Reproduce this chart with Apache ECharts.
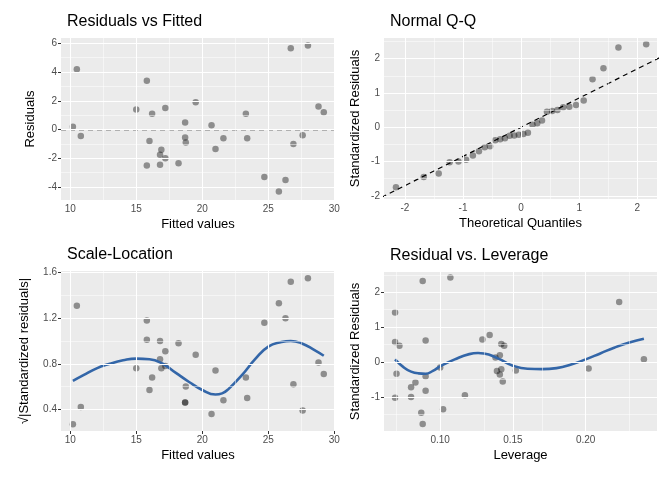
<!DOCTYPE html>
<html><head><meta charset="utf-8">
<script src="https://cdn.jsdelivr.net/npm/echarts@6/dist/echarts.min.js"></script>
<style>html,body{margin:0;padding:0;background:#fff}#c{width:672px;height:480px}</style>
</head><body><div id="c"></div>
<script>
// Residuals vs Fitted
const fittedResid = [[10.2,0.2],[10.5,4.2],[10.8,-0.45],[15,1.4],[15.8,3.4],[15.8,-2.5],[16,-0.8],[16.2,1.1],[16.8,-1.75],[16.8,-2.45],[16.9,-1.4],[17.2,1.5],[17.2,-2.0],[18.2,-2.35],[18.7,-0.55],[18.7,0.5],[18.75,-0.9],[19.5,1.9],[20.7,0.3],[21,-1.35],[21.6,-0.6],[23.3,1.1],[23.4,-0.6],[24.7,-3.3],[25.8,-4.3],[26.3,-3.5],[26.7,5.65],[26.9,-1.0],[27.6,-0.4],[28,5.85],[28.8,1.6],[29.2,1.2]];
// Normal Q-Q
const theoQ = [-2.154,-1.676,-1.418,-1.230,-1.078,-0.947,-0.830,-0.725,-0.626,-0.534,-0.445,-0.360,-0.278,-0.197,-0.118,-0.039,0.039,0.118,0.197,0.278,0.360,0.445,0.534,0.626,0.725,0.830,0.947,1.078,1.230,1.418,1.676,2.154];
const stdResSorted = [-1.75,-1.45,-1.35,-1.02,-1.0,-0.95,-0.82,-0.7,-0.58,-0.55,-0.38,-0.35,-0.32,-0.25,-0.24,-0.22,-0.2,-0.16,0.07,0.12,0.2,0.45,0.47,0.5,0.58,0.6,0.65,0.78,1.4,1.72,2.32,2.42];
const qqLine = [[-2.4,-2.04],[2.4,2.04]];
// Scale-Location
const scaleLoc = [[10.2,0.27],[10.5,1.31],[10.8,0.42],[15,0.76],[15.8,1.18],[15.8,1.01],[16,0.57],[16.2,0.68],[16.8,0.84],[16.8,1.0],[16.9,0.76],[17.2,0.91],[17.2,0.78],[18.2,0.98],[18.7,0.46],[18.7,0.46],[18.75,0.6],[19.5,0.88],[20.7,0.36],[21,0.74],[21.6,0.48],[23.3,0.68],[23.4,0.5],[24.7,1.16],[25.8,1.33],[26.3,1.2],[26.7,1.52],[26.9,0.62],[27.6,0.39],[28,1.55],[28.8,0.81],[29.2,0.71]];
const scaleSmooth = [[10.2,0.65],[11,0.7],[12,0.76],[13,0.8],[14,0.83],[15,0.845],[16,0.84],[17,0.8],[18,0.72],[19,0.64],[20,0.57],[21,0.53],[21.5,0.54],[22,0.58],[23,0.7],[24,0.84],[25,0.95],[26,0.99],[26.7,1.0],[27.5,0.98],[28.5,0.92],[29.2,0.87]];
// Residual vs Leverage
const leverage = [[0.069,1.42],[0.069,0.58],[0.069,-1.02],[0.070,-0.33],[0.072,0.47],[0.080,-0.72],[0.080,-1.0],[0.083,-0.58],[0.087,-1.45],[0.088,-1.77],[0.088,2.32],[0.090,0.62],[0.090,-0.4],[0.090,-0.82],[0.100,-0.15],[0.102,-1.35],[0.107,2.42],[0.117,-0.95],[0.129,0.65],[0.134,0.78],[0.138,0.13],[0.139,-0.25],[0.141,0.2],[0.141,-0.35],[0.142,0.52],[0.142,-0.2],[0.143,-0.55],[0.144,0.47],[0.152,-0.24],[0.202,-0.18],[0.223,1.72],[0.240,0.08]];
const levSmooth = [[0.069,0.08],[0.075,-0.15],[0.08,-0.27],[0.085,-0.32],[0.09,-0.33],[0.095,-0.25],[0.1,-0.12],[0.11,0.08],[0.12,0.23],[0.126,0.26],[0.13,0.25],[0.14,0.1],[0.15,-0.1],[0.16,-0.19],[0.17,-0.2],[0.18,-0.17],[0.19,-0.07],[0.2,0.08],[0.21,0.25],[0.22,0.42],[0.23,0.56],[0.24,0.67]];
// ticks
const t = {
 x0:[10,15,20,25,30], x0m:[12.5,17.5,22.5,27.5], y0:[-4,-2,0,2,4,6], y0m:[-3,-1,1,3,5],
 x1:[-2,-1,0,1,2], x1m:[-1.5,-0.5,0.5,1.5], y1:[-2,-1,0,1,2], y1m:[-1.5,-0.5,0.5,1.5,2.5],
 x2:[10,15,20,25,30], x2m:[12.5,17.5,22.5,27.5], y2:[0.4,0.8,1.2,1.6], y2m:[0.6,1.0,1.4],
 x3:[0.10,0.15,0.20], x3m:[0.075,0.125,0.175,0.225], y3:[-1,0,1,2], y3m:[-1.5,-0.5,0.5,1.5,2.5]
};
const ranges = [
 {x:[9.3,30.05], y:[-4.9,6.37]},
 {x:[-2.36,2.34], y:[-2.09,2.6]},
 {x:[9.3,30.05], y:[0.21,1.614]},
 {x:[0.0614,0.249], y:[-1.97,2.58]}
];
const grids = [
 {left:61,top:38,width:274,height:162},
 {left:384,top:38,width:273,height:161},
 {left:61,top:271,width:274,height:160},
 {left:384,top:272,width:273,height:159}
];
const names = [["Fitted values","Residuals"],["Theoretical Quantiles","Standardized Residuals"],["Fitted values","√|Standardized residuals|"],["Leverage","Standardized Residuals"]];
const titles = ["Residuals vs Fitted","Normal Q-Q","Scale-Location","Residual vs. Leverage"];
const fx = [v=>String(v), v=>String(v), v=>String(v), v=>v.toFixed(2)];
const fy = [v=>String(v), v=>String(v), v=>v.toFixed(1), v=>String(v)];
const font='Liberation Sans, Arial';

const xAxis=[], yAxis=[];
for(let i=0;i<4;i++){
  const r=ranges[i];
  const major=(dim,vals,fmt,pos)=>({type:'value',gridIndex:i,position:pos,min:r[dim][0],max:r[dim][1],
    axisLine:{show:false},
    axisTick:{show:true,length:3,lineStyle:{color:'#333'},customValues:vals},
    axisLabel:{color:'#4d4d4d',fontSize:10,fontFamily:font,customValues:vals,formatter:fmt,margin:4},
    splitLine:{show:false},
    nameLocation:'middle',nameTextStyle:{color:'#000',fontSize:13,fontFamily:font}});
  const xm=major('x',t['x'+i],fx[i],'bottom'); xm.name=names[i][0]; xm.nameGap=18;
  const ym=major('y',t['y'+i],fy[i],'left'); ym.name=names[i][1]; ym.nameGap = i==2?30:(i==3?22:22);
  if(i==0) ym.nameGap=24;
  xAxis.push(xm); yAxis.push(ym);
}
const pt={color:'rgba(0,0,0,0.5)'};
const gridLines=(i)=>{
  const d=[];
  t['x'+i+'m'].forEach(v=>d.push({xAxis:v,lineStyle:{color:'#fff',width:0.5,type:'solid'}}));
  t['y'+i+'m'].forEach(v=>d.push({yAxis:v,lineStyle:{color:'#fff',width:0.5,type:'solid'}}));
  t['x'+i].forEach(v=>d.push({xAxis:v,lineStyle:{color:'#fff',width:1.1,type:'solid'}}));
  t['y'+i].forEach(v=>d.push({yAxis:v,lineStyle:{color:'#fff',width:1.1,type:'solid'}}));
  return {type:'scatter',xAxisIndex:i,yAxisIndex:i,data:[],z:1,silent:true,
    markLine:{silent:true,symbol:'none',label:{show:false},animation:false,data:d.filter(o=>{
      const k=o.xAxis!==undefined?'x':'y'; const v=o.xAxis!==undefined?o.xAxis:o.yAxis;
      return v>=ranges[i][k][0]&&v<=ranges[i][k][1];})}};
};
const sc=(i,data)=>({type:'scatter',xAxisIndex:i,yAxisIndex:i,data,symbolSize:6.5,itemStyle:pt,silent:true,z:3});
const ln=(i,data,extra)=>Object.assign({type:'line',xAxisIndex:i,yAxisIndex:i,data,showSymbol:false,silent:true,z:4},extra);
const series=[
  gridLines(0),gridLines(1),gridLines(2),gridLines(3),
  sc(0,fittedResid),
  ln(0,[[ranges[0].x[0],0],[ranges[0].x[1],0]],{lineStyle:{color:'#000',type:[5,4],width:1.2}}),
  sc(1,theoQ.map((q,k)=>[q,stdResSorted[k]])),
  ln(1,qqLine,{lineStyle:{color:'#000',type:[5,4],width:1.2},clip:true}),
  sc(2,scaleLoc),
  ln(2,scaleSmooth,{smooth:true,lineStyle:{color:'#3366a8',width:2.6}}),
  sc(3,leverage),
  ln(3,levSmooth,{smooth:true,lineStyle:{color:'#3366a8',width:2.6}})
];
const gridOpts=grids.map(g=>Object.assign({show:true,backgroundColor:'#ebebeb',borderWidth:0},g));
const title=titles.map((s,i)=>({text:s,left:grids[i].left+1,top:grids[i].top-29,textStyle:{fontSize:16,fontWeight:'normal',color:'#000',fontFamily:font}}));
const chart=echarts.init(document.getElementById('c'));
chart.setOption({animation:false,title,grid:gridOpts,xAxis,yAxis,series});
</script></body></html>
